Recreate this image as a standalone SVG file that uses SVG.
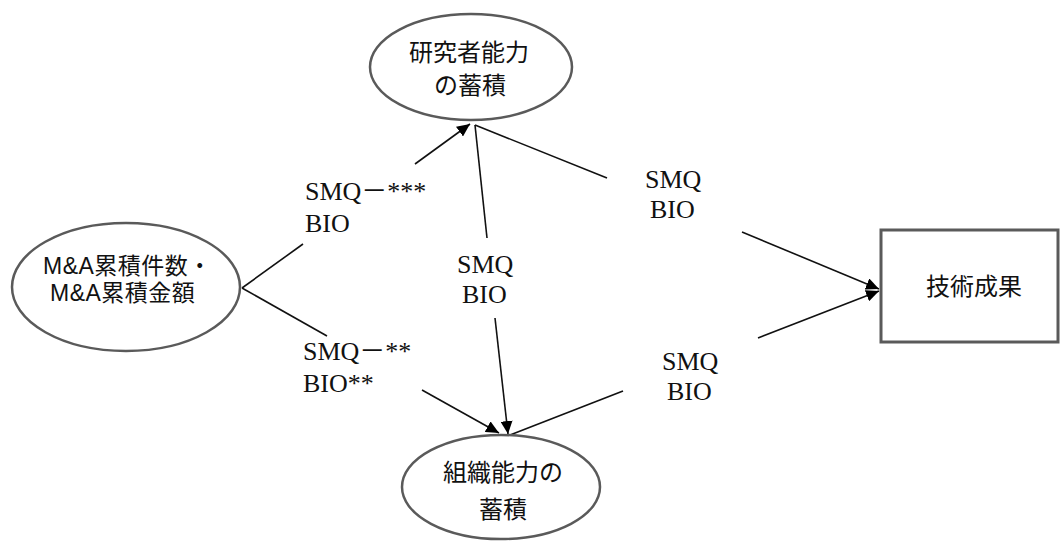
<svg xmlns="http://www.w3.org/2000/svg" width="1060" height="543" viewBox="0 0 1060 543">
<style>
.node{fill:#fff;stroke:#5a5a5a;stroke-width:2.5}
.cjk{font-family:"Liberation Sans","Noto Sans CJK JP",sans-serif;font-size:24px;fill:#111;text-anchor:middle}
.cjkl{font-family:"Liberation Sans","Noto Sans CJK JP",sans-serif;font-size:23px;fill:#111;letter-spacing:0.5px}
.lbl{font-family:"Liberation Serif","Noto Sans CJK JP",serif;font-size:26px;fill:#111}
.ln{stroke:#111;stroke-width:1.6;fill:none}
</style>
<defs>
<marker id="ah" markerUnits="userSpaceOnUse" markerWidth="14" markerHeight="12" refX="13" refY="6" orient="auto">
<path d="M0,0 L13,6 L0,12 Z" fill="#000"/>
</marker>
</defs>
<g id="connectors">
<line class="ln" x1="242" y1="288" x2="303" y2="244"/>
<line class="ln" x1="415" y1="164" x2="470" y2="124" marker-end="url(#ah)"/>
<line class="ln" x1="242" y1="288" x2="327" y2="336"/>
<line class="ln" x1="422" y1="390" x2="499" y2="433" marker-end="url(#ah)"/>
<line class="ln" x1="475" y1="125" x2="487" y2="238"/>
<line class="ln" x1="495" y1="318" x2="508" y2="434" marker-end="url(#ah)"/>
<line class="ln" x1="475" y1="125" x2="607" y2="178"/>
<line class="ln" x1="742" y1="232" x2="879" y2="289" marker-end="url(#ah)"/>
<line class="ln" x1="510" y1="435" x2="623" y2="391"/>
<line class="ln" x1="758" y1="338" x2="879" y2="291" marker-end="url(#ah)"/>
</g>
<g id="labels">
<text class="lbl" x="305" y="200">SMQ－***</text>
<text class="lbl" x="305" y="232">BIO</text>
<text class="lbl" x="303" y="360">SMQ－**</text>
<text class="lbl" x="303" y="392">BIO**</text>
<text class="lbl" x="457" y="273">SMQ</text>
<text class="lbl" x="462" y="303">BIO</text>
<text class="lbl" x="645" y="188">SMQ</text>
<text class="lbl" x="650" y="218">BIO</text>
<text class="lbl" x="662" y="370">SMQ</text>
<text class="lbl" x="667" y="400">BIO</text>
</g>
<g id="node-researcher">
<ellipse class="node" cx="471" cy="67" rx="101" ry="53"/>
<text class="cjk" x="469" y="61">研究者能力</text>
<text class="cjk" x="470" y="94">の蓄積</text>
</g>
<g id="node-ma">
<ellipse class="node" cx="126" cy="287" rx="114" ry="64"/>
<text class="cjkl" x="43" y="274">M&amp;A累積件数・</text>
<text class="cjkl" x="50" y="301">M&amp;A累積金額</text>
</g>
<g id="node-org">
<ellipse class="node" cx="501" cy="487" rx="99" ry="52"/>
<text class="cjk" x="503" y="481">組織能力の</text>
<text class="cjk" x="503" y="518">蓄積</text>
</g>
<g id="node-result">
<rect x="881" y="230" width="177" height="112" fill="#fff" stroke="#5a5a5a" stroke-width="3"/>
<text class="cjk" x="974" y="295">技術成果</text>
</g>
</svg>
